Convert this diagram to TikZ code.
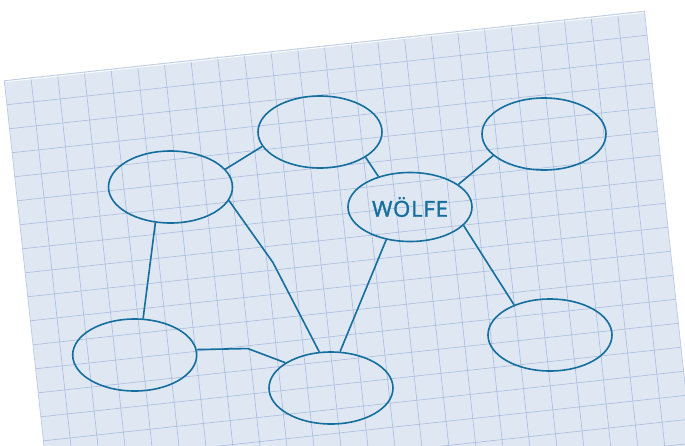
\documentclass[tikz,border=0pt]{standalone}
\usepackage{fontspec}
\setmainfont{Open Sans}
\newfontfamily\handfont[FakeBold=1.5, LetterSpace=4]{Open Sans}
\usetikzlibrary{shapes.geometric}
\definecolor{paper}{RGB}{223,231,242}
\definecolor{gridblue}{RGB}{168,188,224}
\definecolor{inkblue}{RGB}{20,110,158}

\begin{document}
\begin{tikzpicture}[x=1pt, y=-1pt,
    bubble/.style={draw=inkblue, line width=1.6pt, ellipse, minimum width=124pt, minimum height=72pt, inner sep=0pt},
    link/.style={inkblue, line width=1.6pt}]
    \useasboundingbox (0,0) rectangle (685,445);
    \begin{scope}
      \clip (0,0) rectangle (685,445);
      \begin{scope}[shift={(4.3,80.7)}, rotate=6.2]
        \fill[fill=paper] (0,0) rectangle (644,500);
        \foreach \i in {1,...,23} \draw[gridblue, line width=0.6pt] (\i*26.83,0) -- (\i*26.83,500);
        \foreach \j in {1,...,20} \draw[gridblue, line width=0.6pt] (0,\j*24.15) -- (644,\j*24.15);
        \draw[white, line width=0.8pt] (1.2,1.2) -- (642.8,1.2);
        \draw[gridblue!80, line width=0.7pt] (0,500) -- (0,0) -- (644,0) -- (644,500);
      \end{scope}
    \end{scope}
    \node[bubble] (topmid) at (320,132) {};
    \node[bubble] (topright) at (544,134) {};
    \node[bubble] (midleft) at (170.5,187) {};
    \node[bubble, minimum height=69pt, text=inkblue, font=\handfont\fontsize{22}{22}\selectfont] (wolves) at (410,207) {WÖLFE};
    \node[bubble] (lowleft) at (134.7,355) {};
    \node[bubble] (lowmid) at (331,388) {};
    \node[bubble] (lowright) at (550,335) {};
    \draw[link] (midleft.18) -- (topmid.194);
    \draw[link] (topmid.-29) -- (wolves.136);
    \draw[link] (wolves.25) -- (topright.203);
    \draw[link] (wolves.-19) -- (lowright.140);
    \draw[link] (wolves.-126) -- (lowmid.76);
    \draw[link] (midleft.-13) -- ++(44,62) -- (lowmid.108);
    \draw[link] (midleft.-113) -- (lowleft.77);
    \draw[link] (lowleft.5) -- ++(51,-1) -- (lowmid.151);
\end{tikzpicture}
\end{document}
